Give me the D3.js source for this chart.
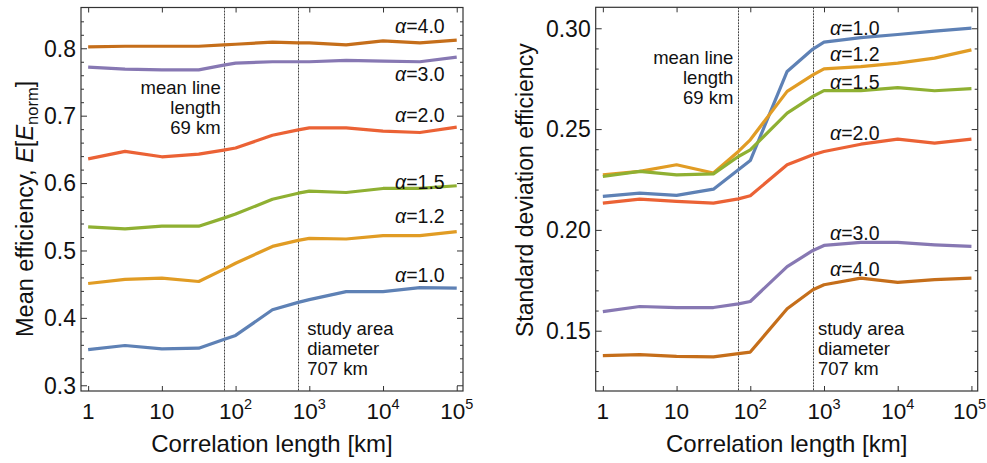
<!DOCTYPE html>
<html>
<head>
<meta charset="utf-8">
<script src="https://cdn.jsdelivr.net/npm/d3@7"></script>
<style>
  body { margin: 0; background: #fff; }
  text { font-family: "Liberation Sans", Arial, sans-serif; fill: #111; }
</style>
</head>
<body>
<svg id="chart" width="987" height="463"></svg>
<script>
// Correlation lengths [km] at which the efficiency was evaluated
const corrLength = [1, 3.162, 10, 31.62, 69, 100, 316.2, 707, 1000, 3162, 10000, 31623, 100000];

// Exponent values, one line per alpha
const alphas = ["1.0", "1.2", "1.5", "2.0", "3.0", "4.0"];

// Mean efficiency E[E_norm]
const meanA10 = [0.353, 0.359, 0.354, 0.355, 0.368, 0.374, 0.412, 0.423, 0.427, 0.439, 0.439, 0.445, 0.444];
const meanA12 = [0.451, 0.457, 0.459, 0.454, 0.472, 0.481, 0.506, 0.515, 0.518, 0.517, 0.522, 0.522, 0.528];
const meanA15 = [0.535, 0.532, 0.536, 0.536, 0.548, 0.554, 0.576, 0.585, 0.588, 0.586, 0.592, 0.592, 0.596];
const meanA20 = [0.636, 0.647, 0.639, 0.643, 0.649, 0.652, 0.671, 0.679, 0.682, 0.682, 0.677, 0.675, 0.683];
const meanA30 = [0.772, 0.769, 0.768, 0.768, 0.775, 0.778, 0.780, 0.780, 0.780, 0.782, 0.781, 0.780, 0.787];
const meanA40 = [0.802, 0.803, 0.803, 0.803, 0.805, 0.806, 0.809, 0.808, 0.808, 0.805, 0.811, 0.808, 0.812];

// Standard deviation of the efficiency
const sdA10 = [0.2166, 0.2182, 0.2171, 0.2202, 0.2298, 0.2344, 0.2786, 0.2897, 0.2931, 0.2954, 0.2969, 0.2986, 0.3001];
const sdA12 = [0.2273, 0.2290, 0.2323, 0.2282, 0.2389, 0.2447, 0.2687, 0.2769, 0.2799, 0.2810, 0.2827, 0.2852, 0.2893];
const sdA15 = [0.2265, 0.2290, 0.2273, 0.2278, 0.2364, 0.2397, 0.2579, 0.2662, 0.2691, 0.2691, 0.2706, 0.2690, 0.2701];
const sdA20 = [0.2133, 0.2153, 0.2141, 0.2133, 0.2154, 0.2169, 0.2323, 0.2373, 0.2389, 0.2425, 0.2450, 0.2430, 0.2450];
const sdA30 = [0.1595, 0.1620, 0.1615, 0.1615, 0.1633, 0.1645, 0.1818, 0.1898, 0.1923, 0.1938, 0.1938, 0.1926, 0.1918];
const sdA40 = [0.1376, 0.1381, 0.1373, 0.1370, 0.1386, 0.1394, 0.1609, 0.1703, 0.1728, 0.1761, 0.1740, 0.1753, 0.1761];

// Reference lengths marked by vertical lines
const meanLineLength = 69;
const studyDiameter = 707;

// Axis ticks
const xTickValues = [1, 10, 100, 1000, 10000, 100000];
const xTickBase = ["1", "10", "10", "10", "10", "10"];
const xTickExp = ["", "", "2", "3", "4", "5"];
const meanTicks = [0.3, 0.4, 0.5, 0.6, 0.7, 0.8];
const meanTickLabels = ["0.3", "0.4", "0.5", "0.6", "0.7", "0.8"];
const sdTicks = [0.15, 0.20, 0.25, 0.30];
const sdTickLabels = ["0.15", "0.20", "0.25", "0.30"];

const colors = ["#5E81B5", "#E19C24", "#8FB032", "#EB6235", "#8778B3", "#C56E1A"];

const WIDTH = 987;
const svg = d3.select("#chart");

const panels = [
  {
    left: 81, right: 463, top: 7.5, bottom: 391,
    yDomain: [0.2915, 0.8605],
    series: [meanA10, meanA12, meanA15, meanA20, meanA30, meanA40],
    ticks: meanTicks, tickLabels: meanTickLabels, minorStep: 0.02,
    labelX: 14560, labelY: [0.4537, 0.5404, 0.5912, 0.6911, 0.7519, 0.8223],
    meanTextY: [94, 114, 134], meanTextDx: -3,
    studyTextY: [335, 355, 375], studyTextDx: 9,
    titleX: 33
  },
  {
    left: 595.7, right: 977.7, top: 7.3, bottom: 391,
    yDomain: [0.1201, 0.3104],
    series: [sdA10, sdA12, sdA15, sdA20, sdA30, sdA40],
    ticks: sdTicks, tickLabels: sdTickLabels, minorStep: 0.01,
    labelX: 1207, labelY: [0.2968, 0.2839, 0.2698, 0.2447, 0.1951, 0.1769],
    meanTextY: [64, 84, 104], meanTextDx: -5,
    studyTextY: [335, 355, 375], studyTextDx: 5,
    titleX: 533
  }
];

panels.forEach((p, pi) => {
  const g = svg.append("g");
  const x = d3.scaleLog().domain([Math.pow(10, -0.097), Math.pow(10, 5.085)]).range([p.left, p.right]);
  const y = d3.scaleLinear().domain(p.yDomain).range([p.bottom, p.top]);

  // minor y ticks between the domain limits
  const minor = d3.range(Math.ceil(p.yDomain[0] / p.minorStep), Math.floor(p.yDomain[1] / p.minorStep) + 1)
    .map(k => +(k * p.minorStep).toFixed(3))
    .filter(v => !p.ticks.some(t => Math.abs(t - v) < 1e-6) && y(v) > p.top + 2 && y(v) < p.bottom - 2);

  // ticks on all four sides, pointing inward
  g.append("g").attr("transform", `translate(0,${p.bottom})`)
    .call(d3.axisBottom(x).tickValues(xTickValues).tickSize(-5).tickFormat(""));
  g.append("g").attr("transform", `translate(0,${p.top})`)
    .call(d3.axisTop(x).tickValues(xTickValues).tickSize(-5).tickFormat(""));
  g.append("g").attr("transform", `translate(${p.left},0)`)
    .call(d3.axisLeft(y).tickValues(p.ticks).tickSize(-6).tickFormat(""));
  g.append("g").attr("transform", `translate(${p.left},0)`)
    .call(d3.axisLeft(y).tickValues(minor).tickSize(-3).tickFormat(""));
  g.append("g").attr("transform", `translate(${p.right},0)`)
    .call(d3.axisRight(y).tickValues(p.ticks).tickSize(-6).tickFormat(""));
  g.append("g").attr("transform", `translate(${p.right},0)`)
    .call(d3.axisRight(y).tickValues(minor).tickSize(-3).tickFormat(""));
  g.selectAll(".domain").remove();
  g.selectAll(".tick line").attr("stroke", "#333").attr("stroke-width", 1);

  // frame
  g.append("rect")
    .attr("x", p.left).attr("y", p.top)
    .attr("width", p.right - p.left).attr("height", p.bottom - p.top)
    .attr("fill", "none").attr("stroke", "#333").attr("stroke-width", 1.2);

  // reference lines
  [meanLineLength, studyDiameter].forEach(v => {
    const xv = Math.round(x(v)) + 0.5;
    g.append("line")
      .attr("x1", xv).attr("x2", xv)
      .attr("y1", p.top).attr("y2", p.bottom)
      .attr("stroke", "#444").attr("stroke-width", 1)
      .attr("stroke-dasharray", "2,1");
  });

  // series lines
  const line = d3.line().x((d, i) => x(corrLength[i])).y(d => y(d));
  p.series.forEach((vals, si) => {
    g.append("path")
      .datum(vals)
      .attr("d", line)
      .attr("fill", "none")
      .attr("stroke", colors[si])
      .attr("stroke-width", 3.2)
      .attr("stroke-linejoin", "round")
      .attr("stroke-linecap", "butt");
  });

  // alpha labels
  alphas.forEach((a, si) => {
    const t = g.append("text")
      .attr("x", x(p.labelX)).attr("y", y(p.labelY[si]))
      .style("font-size", "19.5px");
    t.append("tspan").style("font-style", "italic").text("α");
    t.append("tspan").text("=" + a);
  });

  // reference line annotations
  ["mean line", "length", meanLineLength + " km"].forEach((s, i) => {
    g.append("text")
      .attr("x", x(meanLineLength) + p.meanTextDx).attr("y", p.meanTextY[i])
      .attr("text-anchor", "end").style("font-size", "18.5px").text(s);
  });
  ["study area", "diameter", studyDiameter + " km"].forEach((s, i) => {
    g.append("text")
      .attr("x", x(studyDiameter) + p.studyTextDx).attr("y", p.studyTextY[i])
      .attr("text-anchor", "start").style("font-size", "18.5px").text(s);
  });

  // x tick labels (kept inside the page at the right edge)
  xTickValues.forEach((v, i) => {
    const t = g.append("text")
      .attr("x", x(v)).attr("y", 419)
      .attr("text-anchor", "middle")
      .style("font-size", "22.5px");
    t.append("tspan").text(xTickBase[i]);
    if (xTickExp[i]) t.append("tspan").attr("dy", -10).style("font-size", "14.5px").text(xTickExp[i]);
    const bb = t.node().getBBox();
    const overflow = bb.x + bb.width - (WIDTH - 1);
    if (overflow > 0) t.attr("x", x(v) - overflow);
  });

  // y tick labels
  p.ticks.forEach((v, i) => {
    g.append("text")
      .attr("x", p.left - 5).attr("y", y(v) + 8.3)
      .attr("text-anchor", "end")
      .style("font-size", "23px")
      .text(p.tickLabels[i]);
  });

  // x axis title
  g.append("text")
    .attr("x", (p.left + p.right) / 2).attr("y", 452)
    .attr("text-anchor", "middle").style("font-size", "24px")
    .text("Correlation length [km]");

  // y axis title, starting from the lower end of the frame
  const yt = g.append("text")
    .attr("transform", `translate(${p.titleX},337) rotate(-90)`)
    .attr("text-anchor", "start").style("font-size", pi === 0 ? "23.5px" : "23px");
  if (pi === 0) {
    yt.append("tspan").text("Mean efficiency, ");
    yt.append("tspan").style("font-style", "italic").text("E");
    yt.append("tspan").text("[");
    yt.append("tspan").style("font-style", "italic").text("E");
    yt.append("tspan").attr("dy", 5).style("font-size", "16.5px").text("norm");
    yt.append("tspan").attr("dy", -5).text("]");
  } else {
    yt.text("Standard deviation efficiency");
  }
});
</script>
</body>
</html>
